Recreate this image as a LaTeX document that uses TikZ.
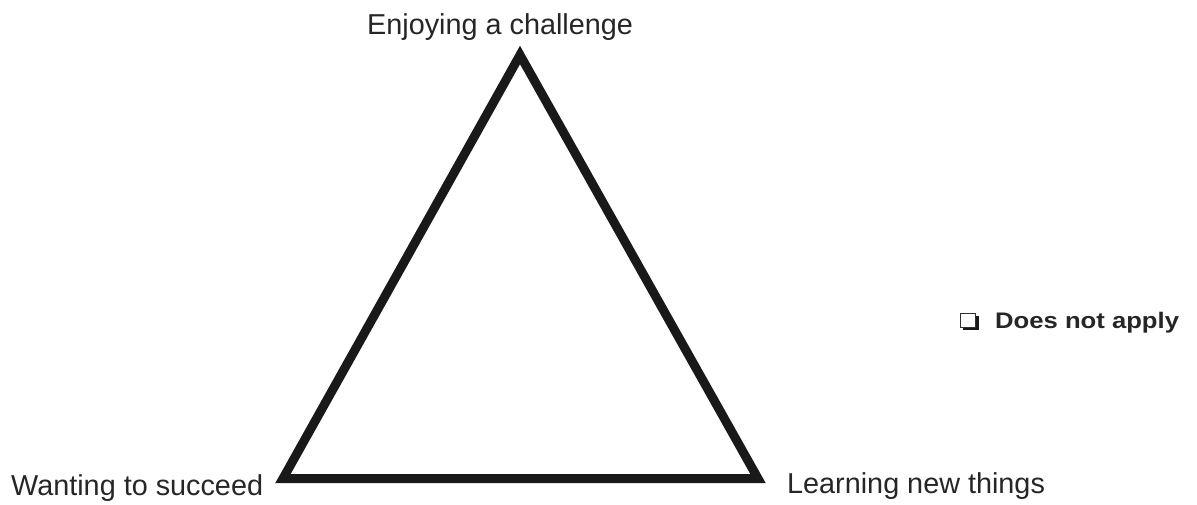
\documentclass[tikz,border=0pt]{standalone}
\usepackage{fontspec}
\setmainfont{Liberation Sans}
\begin{document}
\begin{tikzpicture}[x=1pt,y=-1pt,
  lbl/.style={font=\fontsize{28.8}{34}\selectfont, text=black!85, inner sep=0pt},
  tri/.style={line width=9pt, line join=miter, draw=black!90}]
\useasboundingbox (0,0) rectangle (1197,505);
\coordinate (A) at (520,55);
\coordinate (B) at (283,478.5);
\coordinate (C) at (758,478.5);
\draw[tri] (A) -- (B) -- (C) -- cycle;
\node[lbl, anchor=base west] (ta) at (367,35) {Enjoying a challenge};
\node[lbl, anchor=base west] (tb) at (11,495) {Wanting to succeed};
\node[lbl, anchor=base west] (tc) at (787,493) {Learning new things};
% checkbox
\fill[black!90] (963,316) rectangle (979,330);
\draw[line width=1pt, fill=white, draw=black!80] (960,313) rectangle (975,327);
\node[font=\bfseries\fontsize{22.5}{26}\selectfont, text=black!85, anchor=base west, inner sep=0pt] (na) at (995,328) {\scalebox{1.14}[1]{Does not apply}};
\end{tikzpicture}
\end{document}
